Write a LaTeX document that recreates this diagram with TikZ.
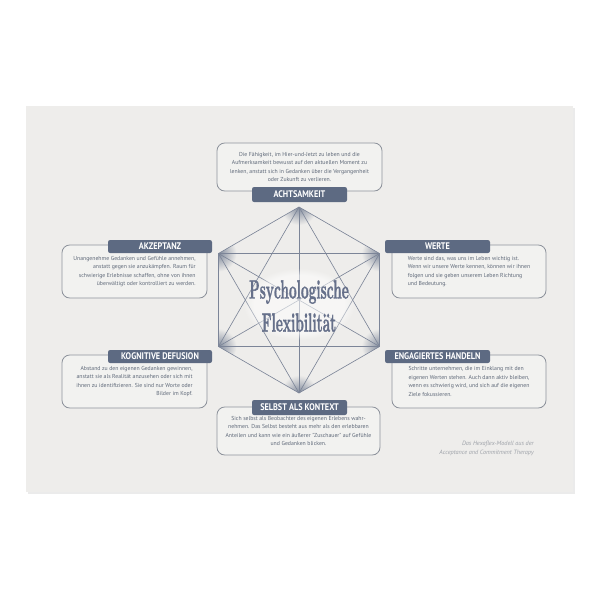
\documentclass[tikz,border=0pt]{standalone}
\usepackage{fontspec}
\usepackage{tikz}
\usetikzlibrary{fadings}
\newfontfamily\ptsans{PT Sans}
\newfontfamily\titlefont[FakeBold=1.5]{lmroman10-bold.otf}
\definecolor{cardbg}{HTML}{EEEDEB}
\definecolor{slate}{HTML}{5D6A82}
\definecolor{titlecol}{HTML}{66708A}
\definecolor{boxline}{HTML}{8E939C}
\definecolor{txtgrey}{HTML}{5E6878}
\definecolor{hexline}{HTML}{7C8598}
\definecolor{notegrey}{HTML}{9EA2A9}
\newcommand\tagtext[1]{\scalebox{0.86}[1]{#1}}
\newcommand\condensed[1]{\scalebox{0.51}[1]{#1}}

\begin{document}
\begin{tikzpicture}[x=0.025cm,y=-0.025cm,
  infobox/.style={draw=boxline, line width=0.6pt, rounded corners=5.5pt, fill=cardbg!75!white,
    text=txtgrey, font=\ptsans\fontsize{4.1}{6}\selectfont, inner sep=0pt},
  tagbox/.style={fill=slate, rounded corners=1.5pt, text=white, inner sep=0pt,
    font=\ptsans\bfseries\fontsize{6.8}{7}\selectfont},
  hexedge/.style={draw=hexline, line width=0.45pt}]
\useasboundingbox (0,0) rectangle (600,600);
\fill[white] (0,0) rectangle (600,600);
% card
\fill[black!8] (28,108) rectangle (575,494);
\fill[cardbg] (26,106) rectangle (573,492);

% hexaflex
\foreach \i/\a in {1/270,2/210,3/150,4/90,5/30,6/330}
  \coordinate (h\i) at ([shift={(299,300)}]\a:93);
\begin{scope}
 \clip (h1)--(h2)--(h3)--(h4)--(h5)--(h6)--cycle;
 \foreach \i in {1,...,6}
  \shade[inner color=slate!75!cardbg, outer color=cardbg] (h\i) circle (18);
\end{scope}
\foreach \i in {1,...,5}{
 \pgfmathtruncatemacro\k{\i+1}
 \foreach \j in {\k,...,6}
  \draw[hexedge] (h\i) -- (h\j);
}
\fill[white, fill opacity=0.55, path fading=circle with fuzzy edge 20 percent] (299,304) ellipse (56 and 36);
\node[text=titlecol, align=center, font=\titlefont\fontsize{18.7}{23.5}\selectfont, inner sep=0pt] (title) at (299,306)
  {\condensed{Psychologische}\\\condensed{Flexibilität}};

% boxes
\node[infobox, minimum width=165*0.025cm, minimum height=48*0.025cm, align=center] (achts) at (299.5,167)
  {Die Fähigkeit, im Hier-und-Jetzt zu leben und die\\Aufmerksamkeit bewusst auf den aktuellen Moment zu\\lenken, anstatt sich in Gedanken über die Vergangenheit\\oder Zukunft zu verlieren.};
\node[tagbox, minimum width=95*0.025cm, minimum height=15*0.025cm] (achtsT) at (299.5,194.5) {\tagtext{ACHTSAMKEIT}};

\node[infobox, minimum width=145*0.025cm, minimum height=53*0.025cm, align=right] (akz) at (134.5,271.5)
  {Unangenehme Gedanken und Gefühle annehmen,\\anstatt gegen sie anzukämpfen. Raum für\\schwierige Erlebnisse schaffen, ohne von ihnen\\überwältigt oder kontrolliert zu werden.};
\node[tagbox, minimum width=104*0.025cm, minimum height=13*0.025cm] (akzT) at (160,246.5) {\tagtext{AKZEPTANZ}};

\node[infobox, minimum width=154*0.025cm, minimum height=53*0.025cm, align=left] (werte) at (469,271.5)
  {Werte sind das, was uns im Leben wichtig ist.\\Wenn wir unsere Werte kennen, können wir ihnen\\folgen und sie geben unserem Leben Richtung\\und Bedeutung.};
\node[tagbox, minimum width=105*0.025cm, minimum height=13*0.025cm] (werteT) at (437.5,246.5) {\tagtext{WERTE}};

\node[infobox, minimum width=145*0.025cm, minimum height=53*0.025cm, align=right] (kog) at (134.5,381.5)
  {Abstand zu den eigenen Gedanken gewinnen,\\anstatt sie als Realität anzusehen oder sich mit\\ihnen zu identifizieren. Sie sind nur Worte oder\\Bilder im Kopf.};
\node[tagbox, minimum width=104*0.025cm, minimum height=13*0.025cm] (kogT) at (160,356.5) {\tagtext{KOGNITIVE DEFUSION}};

\node[infobox, minimum width=154*0.025cm, minimum height=53*0.025cm, align=left] (eng) at (469,381.5)
  {Schritte unternehmen, die im Einklang mit den\\eigenen Werten stehen. Auch dann aktiv bleiben,\\wenn es schwierig wird, und sich auf die eigenen\\Ziele fokussieren.};
\node[tagbox, minimum width=105*0.025cm, minimum height=13*0.025cm] (engT) at (437.5,356.5) {\tagtext{ENGAGIERTES HANDELN}};

\node[infobox, minimum width=163*0.025cm, minimum height=48*0.025cm, align=center] (selbst) at (298.5,431)
  {Sich selbst als Beobachter des eigenen Erlebens wahr-\\nehmen. Das Selbst besteht aus mehr als den erlebbaren\\Anteilen und kann wie ein äußerer "Zuschauer" auf Gefühle\\und Gedanken blicken.};
\node[tagbox, minimum width=95*0.025cm, minimum height=15*0.025cm] (selbstT) at (299.5,407.5) {\tagtext{SELBST ALS KONTEXT}};

\node[anchor=north east, align=right, text=notegrey, inner sep=0pt,
  font=\ptsans\itshape\fontsize{4.4}{6.3}\selectfont] (note) at (534,441)
  {Das Hexaflex-Modell aus der\\Acceptance and Commitment Therapy};
\end{tikzpicture}
\end{document}
